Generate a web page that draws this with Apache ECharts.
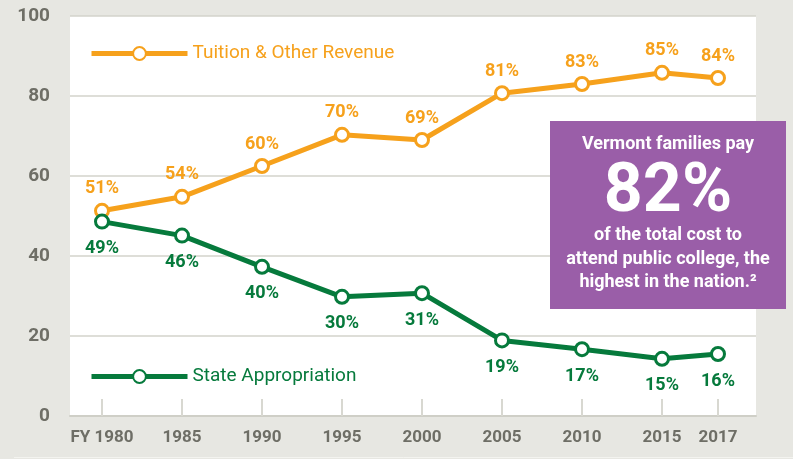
<!DOCTYPE html>
<html lang="en">
<head>
	<meta charset="UTF-8">
	<title>Vermont college cost</title>
	<style>
		*{margin: 0; padding: 0; box-sizing: border-box;}
		body{background: #e7e7e2;}
		#view{width: 793px; height: 459px;}
	</style>
</head>
<body>
	<div id="view"></div>
	<script src="https://cdn.jsdelivr.net/npm/echarts@6/dist/echarts.min.js"></script>
	<script>
	// years on the x axis, and where each one sits (2017 is squeezed next to 2015)
	const years = ['FY 1980', '1985', '1990', '1995', '2000', '2005', '2010', '2015', '2017'];
	const slots = [0, 1, 2, 3, 4, 5, 6, 7, 7.7];

	// plotted shares
	const tuition = [51.3, 54.8, 62.5, 70.3, 69.0, 80.7, 83.0, 85.8, 84.5];
	const state = [48.6, 45.1, 37.3, 29.8, 30.7, 18.9, 16.7, 14.3, 15.5];

	// printed labels
	const tuitionLabels = ['51%', '54%', '60%', '70%', '69%', '81%', '83%', '85%', '84%'];
	const stateLabels = ['49%', '46%', '40%', '30%', '31%', '19%', '17%', '15%', '16%'];

	const yTicks = [0, 20, 40, 60, 80, 100];

	const orange = '#f6a11c';
	const green = '#067a3c';
	const font = 'Roboto, sans-serif';

	function lineSeries(name, values, labels, color, pos, dist) {
		return {
			name: name,
			type: 'line',
			data: slots.map((s, i) => [s, values[i]]),
			symbol: 'circle',
			symbolSize: 13,
			lineStyle: {color: color, width: 5},
			itemStyle: {color: '#fff', borderColor: color, borderWidth: 3},
			label: {
				show: true,
				position: pos,
				distance: dist,
				color: color,
				fontFamily: font,
				fontWeight: 'bold',
				fontSize: 18,
				formatter: p => labels[p.dataIndex]
			},
			emphasis: {disabled: true},
			animation: false
		};
	}

	function legendFor(name, color, top) {
		return {
			data: [{name: name, textStyle: {color: color}}],
			left: 89, top: top, padding: 0,
			itemWidth: 96, itemHeight: 16,
			lineStyle: {width: 5},
			textStyle: {fontFamily: font, fontSize: 19},
			selectedMode: false
		};
	}

	const chart = echarts.init(document.getElementById('view'));
	chart.setOption({
		backgroundColor: '#e7e7e2',
		grid: {left: 70, right: 37, top: 16, bottom: 43, show: true, backgroundColor: '#fff', borderWidth: 0},
		xAxis: {
			type: 'value',
			min: -0.4,
			max: 8.175,
			axisLine: {show: true, lineStyle: {color: '#cfcfc7', width: 2}},
			axisTick: {show: true, inside: true, length: 17, customValues: slots, lineStyle: {color: '#d8d8d1', width: 2}},
			axisLabel: {
				customValues: slots,
				margin: 13,
				color: '#6e6e66',
				fontFamily: font,
				fontWeight: 'bold',
				fontSize: 17,
				formatter: v => years[slots.indexOf(v)]
			},
			splitLine: {show: false}
		},
		yAxis: {
			type: 'value',
			min: yTicks[0],
			max: yTicks[yTicks.length - 1],
			interval: 20,
			axisLine: {show: false},
			axisTick: {show: false},
			axisLabel: {margin: 20, color: '#6e6e66', fontFamily: font, fontWeight: 'bold', fontSize: 19},
			splitLine: {lineStyle: {color: '#d3d3cb', width: 1.5}}
		},
		legend: [
			legendFor('Tuition & Other Revenue', orange, 44),
			legendFor('State Appropriation', green, 367)
		],
		series: [
			lineSeries('Tuition & Other Revenue', tuition, tuitionLabels, orange, 'top', 5),
			lineSeries('State Appropriation', state, stateLabels, green, 'bottom', 10)
		],
		graphic: [
			{type: 'rect', shape: {x: 550, y: 121, width: 236, height: 188}, style: {fill: '#9a5ea8'}, z: 10},
			{type: 'text', x: 668, y: 144, style: {text: 'Vermont families pay', fill: '#fff', font: 'bold 18px Roboto', align: 'center', verticalAlign: 'middle'}, z: 11},
			{type: 'text', x: 668, y: 194, style: {text: '82%', fill: '#fff', font: 'bold 68px Roboto', align: 'center', verticalAlign: 'middle'}, z: 11},
			{type: 'text', x: 668, y: 235, style: {text: 'of the total cost to', fill: '#fff', font: 'bold 18px Roboto', align: 'center', verticalAlign: 'middle'}, z: 11},
			{type: 'text', x: 668, y: 259, style: {text: 'attend public college, the', fill: '#fff', font: 'bold 18px Roboto', align: 'center', verticalAlign: 'middle'}, z: 11},
			{type: 'text', x: 668, y: 282, style: {text: 'highest in the nation.²', fill: '#fff', font: 'bold 18px Roboto', align: 'center', verticalAlign: 'middle'}, z: 11},
			{type: 'line', shape: {x1: 14, y1: 457.5, x2: 793, y2: 457.5}, style: {stroke: '#f3f3ef', lineWidth: 1}}
		]
	});
	</script>
</body>
</html>
